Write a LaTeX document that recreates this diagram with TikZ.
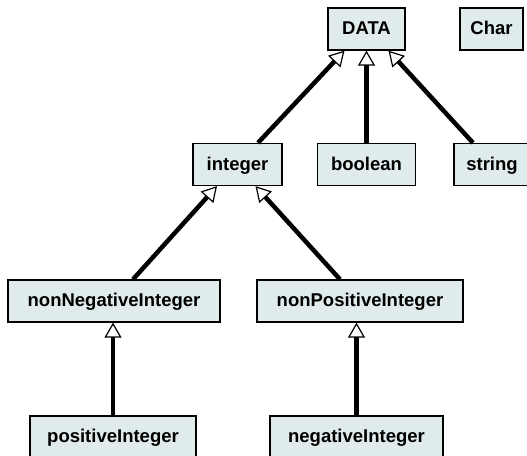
\documentclass[tikz,border=0pt]{standalone}
\usepackage{fontspec}
\setmainfont{Liberation Sans}
\usetikzlibrary{arrows.meta,calc}
\definecolor{boxfill}{RGB}{224,236,236}
\tikzset{
  typebox/.style={draw=black, line width=1.3pt, fill=boxfill, rectangle,
    minimum height=42pt, inner sep=0pt, text height=14pt, text depth=3pt,
    font=\fontsize{18.5pt}{22pt}\selectfont\bfseries},
  isa/.style={line width=4.5pt,
    -{Triangle[length=15pt,width=17pt,fill=white,line width=1.2pt]}}
}
\begin{document}
\begin{tikzpicture}[x=1pt,y=-1pt]
  \useasboundingbox (0,0) rectangle (527,455);
  \clip (0,0) rectangle (527,455);
  % type boxes
  \node[typebox, minimum width=77pt]  (data)   at (366.5,29)  {DATA};
  \node[typebox, minimum width=63pt]  (char)   at (491.5,29)  {Char};
  \node[typebox, minimum width=89pt]  (int)    at (237.5,164.5) {integer};
  \node[typebox, minimum width=98pt]  (bool)   at (366.5,164.5) {boolean};
  \node[typebox, minimum width=76pt]  (str)    at (492,164.5)   {string};
  \node[typebox, minimum width=212pt] (nonneg) at (114,301)   {nonNegativeInteger};
  \node[typebox, minimum width=206pt] (nonpos) at (360,301)   {nonPositiveInteger};
  \node[typebox, minimum width=166pt] (pos)    at (113,437)   {positiveInteger};
  \node[typebox, minimum width=173pt] (neg)    at (356.5,437) {negativeInteger};
  % generalisation arrows
  \draw[isa] ([xshift=20.5pt]int.north) -- ([xshift=-22pt]data.south);
  \draw[isa] (bool.north) -- (data.south);
  \draw[isa] ([xshift=-19pt]str.north) -- ([xshift=22pt]data.south);
  \draw[isa] ([xshift=19pt]nonneg.north) -- ([xshift=-20.5pt]int.south);
  \draw[isa] ([xshift=-20pt]nonpos.north) -- ([xshift=18pt]int.south);
  \draw[isa] (pos.north) -- (pos.north |- nonneg.south);
  \draw[isa] (neg.north) -- (neg.north |- nonpos.south);
\end{tikzpicture}
\end{document}
